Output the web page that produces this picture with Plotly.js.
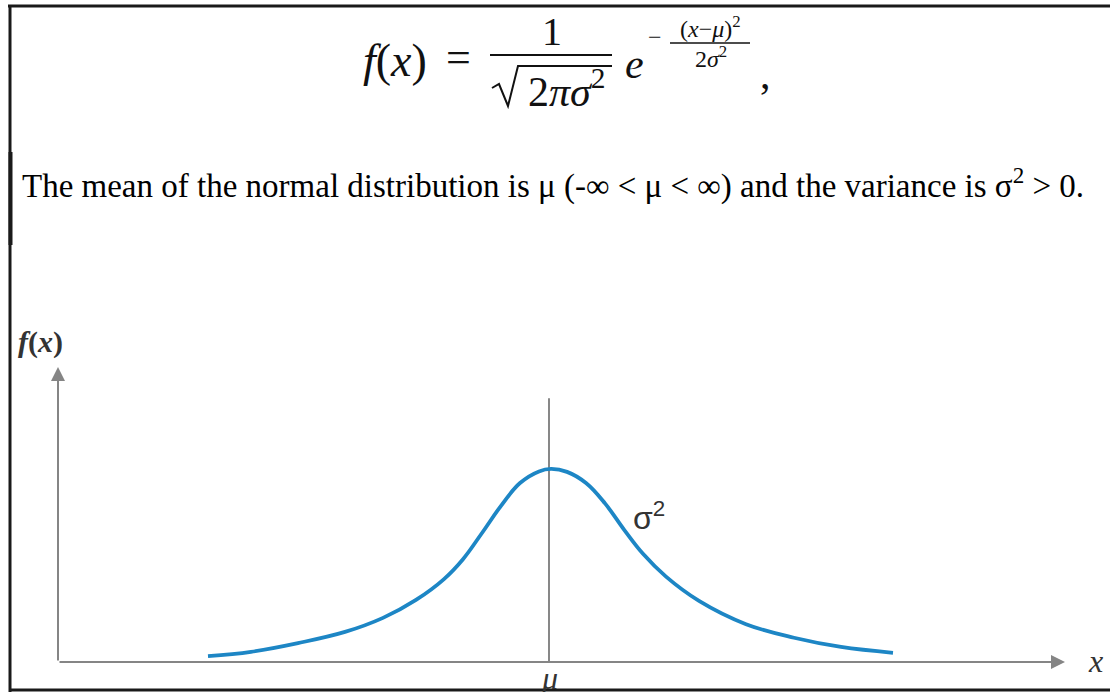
<!DOCTYPE html>
<html>
<head>
<meta charset="utf-8">
<script src="https://cdn.plot.ly/plotly-3.0.1.min.js"></script>
<style>
  html, body { margin: 0; padding: 0; background: #ffffff; }
  #chart { width: 1110px; height: 692px; }
</style>
</head>
<body>
<div id="chart"></div>
<script>
// Bell curve of f(x) around the mean mu (x measured from mu)
const xOffsets = [-3.41, -2.98, -2.51, -2.04, -1.66, -1.33, -1.05, -0.86, -0.67, -0.48, -0.29, -0.10,
                  0.02, 0.18, 0.37, 0.56, 0.75, 0.94, 1.17, 1.50, 1.97, 2.45, 2.92, 3.44];
const density  = [0.012, 0.021, 0.039, 0.062, 0.091, 0.128, 0.171, 0.212, 0.266, 0.322, 0.369, 0.393,
                  0.398, 0.392, 0.369, 0.327, 0.273, 0.223, 0.176, 0.126, 0.078, 0.050, 0.031, 0.019];

// Axis labels
const yAxisLabel = '<i><b>f</b></i><b>(</b><i><b>x</b></i><b>)</b>';
const xAxisLabel = '<i>x</i>';
const meanLabel = '<i>μ</i>';
const spreadLabel = 'σ<sup>2</sup>';
const descriptionText = 'The mean of the normal distribution is μ (-∞ &lt; μ &lt; ∞) and the variance is σ<sup>2</sup> &gt; 0.';

// Geometry of the axes (data units)
const mu = 0;
const xAxisFrom = -4.91, xAxisTo = 5.16;
const yAxisTop = 0.608;
const muLineTop = 0.544;

const W = 1110, H = 692;
const px = v => v / W;           // page pixel -> paper x
const py = v => 1 - v / H;       // page pixel -> paper y

const serif = 'Liberation Serif, Times New Roman, serif';
const sans = 'Liberation Sans, Arial, sans-serif';

const curve = {
  type: 'scatter', mode: 'lines',
  x: xOffsets.map(d => mu + d), y: density,
  line: { color: '#1d86c5', width: 3.8, shape: 'spline', smoothing: 1.1 },
  hoverinfo: 'skip'
};

const muLine = {
  type: 'scatter', mode: 'lines',
  x: [mu, mu], y: [0, muLineTop],
  line: { color: '#6a6a6a', width: 1.6 },
  hoverinfo: 'skip'
};

function pageText(text, x, y, size, opts) {
  return Object.assign({
    xref: 'paper', yref: 'paper', x: px(x), y: py(y),
    text: text, showarrow: false,
    xanchor: 'center', yanchor: 'middle',
    font: { family: serif, size: size, color: '#111' }
  }, opts || {});
}

const annotations = [
  // x axis arrow
  { x: xAxisTo, y: 0, ax: xAxisFrom, ay: 0, xref: 'x', yref: 'y', axref: 'x', ayref: 'y',
    text: '', showarrow: true, arrowhead: 2, arrowsize: 1.4, arrowwidth: 2, arrowcolor: '#858585' },
  // y axis arrow
  { x: xAxisFrom, y: yAxisTop, ax: xAxisFrom, ay: 0, xref: 'x', yref: 'y', axref: 'x', ayref: 'y',
    text: '', showarrow: true, arrowhead: 2, arrowsize: 1.4, arrowwidth: 2, arrowcolor: '#858585' },
  // axis labels
  pageText(yAxisLabel, 40, 342, 30, { font: { family: serif, size: 30, color: '#333' } }),
  pageText(xAxisLabel, 1095, 661, 32, { font: { family: serif, size: 32, color: '#333' } }),
  { x: mu, y: -0.034, xref: 'x', yref: 'y', text: meanLabel, showarrow: false,
    xanchor: 'center', yanchor: 'middle', font: { family: serif, size: 32, color: '#333' } },
  pageText(spreadLabel, 649, 516, 32, { font: { family: sans, size: 32, color: '#333' } }),

  // description line
  pageText(descriptionText, 20, 183, 33, { xanchor: 'left', font: { family: serif, size: 33, color: '#000' } }),

  // density formula
  pageText('<i>f</i>(<i>x</i>)', 395, 60, 46),
  pageText('=', 458, 58, 44),
  pageText('1', 552, 32, 40),
  pageText('2<i>πσ</i><sup>2</sup>', 566, 88, 42),
  pageText('<i>e</i>', 634, 64, 42),
  pageText('−', 655, 37, 24),
  pageText('(<i>x</i>−<i>μ</i>)<sup>2</sup>', 710, 27, 24),
  pageText('2<i>σ</i><sup>2</sup>', 711, 57, 24),
  pageText(',', 766, 74, 42)
];

const line = (x0, y0, x1, y1, w, c) => ({
  type: 'line', xref: 'paper', yref: 'paper',
  x0: px(x0), y0: py(y0), x1: px(x1), y1: py(y1),
  line: { color: c, width: w }, layer: 'above'
});

const shapes = [
  // page frame
  line(8, 6, 1110, 6, 3, '#1a1a1a'),
  line(10, 5, 10, 692, 3, '#1a1a1a'),
  line(9, 690, 1110, 690, 3, '#1a1a1a'),
  line(10.5, 152, 10.5, 245, 4, '#1a1a1a'),
  // formula fraction bars
  line(490, 55, 612, 55, 2, '#111'),
  line(670, 43, 750, 43, 1.5, '#111'),
  // radical sign
  {
    type: 'path', xref: 'paper', yref: 'paper', layer: 'above',
    path: 'M ' + px(492) + ',' + py(88) + ' L ' + px(499) + ',' + py(84) +
          ' L ' + px(508) + ',' + py(106) + ' L ' + px(518) + ',' + py(66) +
          ' L ' + px(612) + ',' + py(66),
    line: { color: '#111', width: 2 }
  }
];

const layout = {
  width: W, height: H,
  margin: { l: 0, r: 0, t: 0, b: 0 },
  paper_bgcolor: '#ffffff', plot_bgcolor: '#ffffff',
  showlegend: false,
  xaxis: { range: [-5.49, 5.61], visible: false, fixedrange: true },
  yaxis: { range: [(662 - 692) / 485, 662 / 485], visible: false, fixedrange: true },
  annotations: annotations,
  shapes: shapes
};

Plotly.newPlot('chart', [muLine, curve], layout, { staticPlot: true, displayModeBar: false });
</script>
</body>
</html>
